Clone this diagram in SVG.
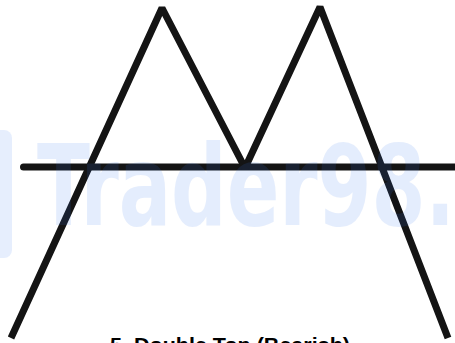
<svg xmlns="http://www.w3.org/2000/svg" width="455" height="343" viewBox="0 0 455 343">
<style>
.ln{fill:none;stroke:#141414;stroke-width:7}
.wm{fill:#3b7cf0;opacity:0.13}
.title{font-family:"Liberation Sans",Arial,sans-serif;font-weight:bold;font-size:21px;fill:#000}
</style>
<rect width="455" height="343" fill="#fff"/>
<g id="connectors">
<line class="ln" x1="23.5" y1="167" x2="455" y2="167" stroke-linecap="round"/>
<polyline class="ln" stroke-linejoin="bevel" points="11,338 162,8 245,168 320,7 448,338"/>
</g>
<g id="watermark">
<rect class="wm" x="-10" y="130" width="22" height="128" rx="8"/>
<text class="wm" x="37" y="225" font-family="'DejaVu Sans Condensed','DejaVu Sans',sans-serif" font-weight="bold" font-stretch="condensed" font-size="112" textLength="418" lengthAdjust="spacingAndGlyphs">Trader98.</text>
</g>
<g id="title">
<text class="title" x="110" y="352" textLength="240" lengthAdjust="spacingAndGlyphs">5. Double Top (Bearish)</text>
</g>
</svg>
